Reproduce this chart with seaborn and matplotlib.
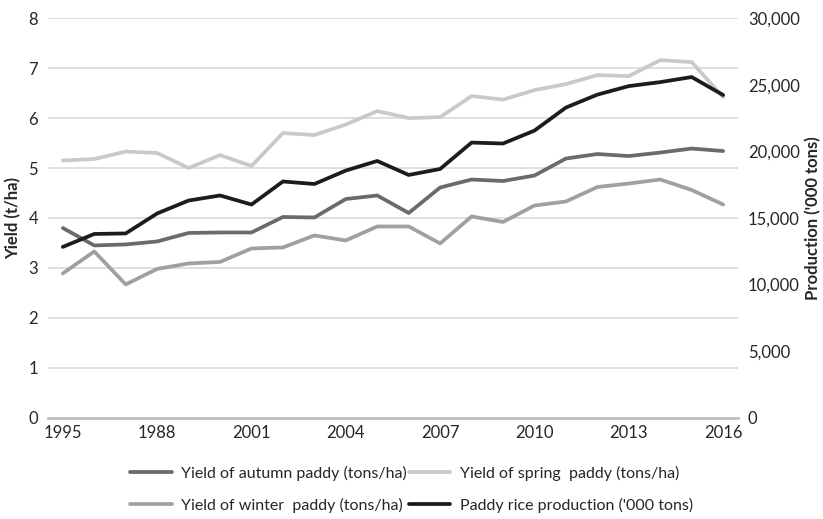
import pandas as pd
import seaborn as sns
import matplotlib.pyplot as plt
from matplotlib.lines import Line2D

years = list(range(1995, 2017))
tick_years = [1995, 1998, 2001, 2004, 2007, 2010, 2013, 2016]
tick_labels = ["1995", "1988", "2001", "2004", "2007", "2010", "2013", "2016"]

autumn = [3.80, 3.45, 3.47, 3.53, 3.70, 3.71, 3.71, 4.02, 4.01, 4.38, 4.45,
          4.10, 4.61, 4.77, 4.74, 4.85, 5.19, 5.28, 5.24, 5.31, 5.39, 5.34]
spring = [5.15, 5.18, 5.33, 5.30, 5.00, 5.26, 5.04, 5.70, 5.66, 5.87, 6.14,
          6.00, 6.02, 6.44, 6.37, 6.56, 6.68, 6.86, 6.84, 7.16, 7.12, 6.42]
winter = [2.89, 3.33, 2.67, 2.98, 3.09, 3.12, 3.39, 3.41, 3.65, 3.55, 3.83,
          3.83, 3.49, 4.03, 3.92, 4.25, 4.33, 4.62, 4.69, 4.77, 4.56, 4.27]
production = [12830, 13800, 13840, 15340, 16310, 16690, 16010, 17740, 17550, 18560, 19280,
              18230, 18680, 20660, 20590, 21560, 23290, 24260, 24900, 25200, 25580, 24230]

df = pd.DataFrame({"year": years, "autumn": autumn, "spring": spring,
                   "winter": winter, "production": production})

sns.set_style("white")
plt.rcParams["font.family"] = ["Lato", "DejaVu Sans"]

c_aut, c_spr, c_win, c_prod = "#6b6b6b", "#c9c9c9", "#a0a0a0", "#1c1c1c"
lw = 2.7

fig = plt.figure(figsize=(8.23, 5.19), dpi=100)
ax = fig.add_axes([0.058, 0.195, 0.839, 0.77])
ax2 = ax.twinx()

sns.lineplot(data=df, x="year", y="autumn", ax=ax, color=c_aut, lw=lw)
sns.lineplot(data=df, x="year", y="spring", ax=ax, color=c_spr, lw=lw)
sns.lineplot(data=df, x="year", y="winter", ax=ax, color=c_win, lw=lw)
sns.lineplot(data=df, x="year", y="production", ax=ax2, color=c_prod, lw=lw)

ax.set_xlim(1994.52, 2016.48)
ax.set_ylim(0, 8)
ax2.set_ylim(0, 30000)
ax.set_yticks(range(0, 9))
ax2.set_yticks(range(0, 30001, 5000))
ax2.set_yticklabels([f"{v:,}" for v in range(0, 30001, 5000)])
ax.set_xticks(tick_years)
ax.set_xticklabels(tick_labels)

ax.grid(axis="y", color="#d9d9d9", lw=1.2)
ax.set_axisbelow(True)
for a in (ax, ax2):
    for s in a.spines.values():
        s.set_visible(False)
    a.tick_params(length=0, labelsize=12, colors="#262626")
ax.spines["bottom"].set_visible(True)
ax.spines["bottom"].set_color("#bfbfbf")
ax.spines["bottom"].set_linewidth(2)
ax.tick_params(axis="y", pad=7)
ax.tick_params(axis="x", pad=5)
ax2.tick_params(axis="y", pad=7)

ax.set_xlabel("")
ax.set_ylabel("Yield (t/ha)", fontsize=12, fontweight="bold", labelpad=5)
ax2.set_ylabel("Production ('000 tons)", fontsize=12, fontweight="bold", labelpad=4)

handles = [Line2D([], [], color=c_aut, lw=lw), Line2D([], [], color=c_win, lw=lw),
           Line2D([], [], color=c_spr, lw=lw), Line2D([], [], color=c_prod, lw=lw)]
labels = ["Yield of autumn paddy (tons/ha)", "Yield of winter  paddy (tons/ha)",
          "Yield of spring  paddy (tons/ha)", "Paddy rice production ('000 tons)"]
fig.legend(handles, labels, ncol=2, loc="center", bbox_to_anchor=(0.5, 0.057),
           frameon=False, fontsize=11.5, handlelength=2.6, columnspacing=0.1,
           handletextpad=0.6, labelspacing=1.05, labelcolor="#262626")

fig.savefig("out.png", dpi=100)
